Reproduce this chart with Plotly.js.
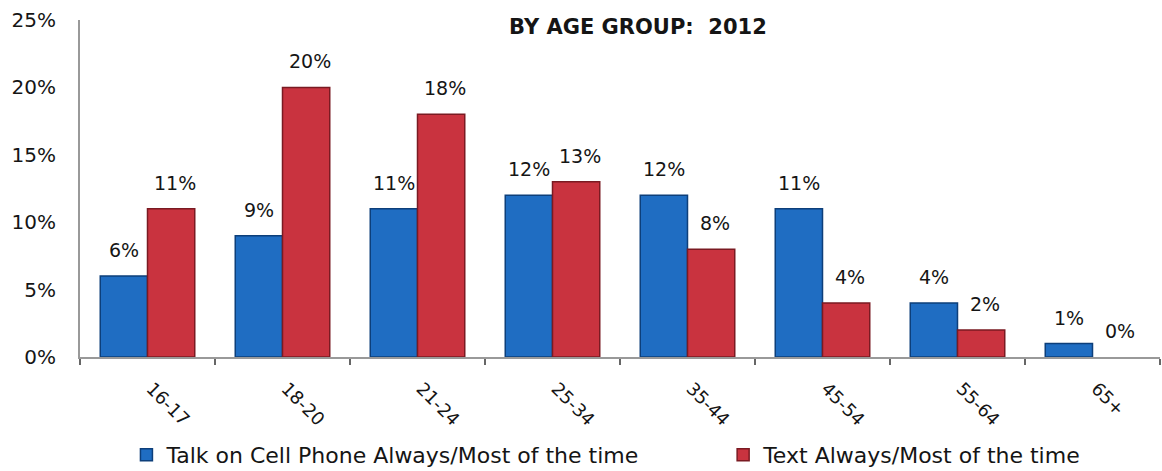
<!DOCTYPE html>
<html>
<head>
<meta charset="utf-8">
<script src="https://cdn.plot.ly/plotly-3.0.1.min.js"></script>
<style>html,body{margin:0;padding:0;background:#fff;}</style>
</head>
<body>
<div id="chart" style="width:1162px;height:471px;"></div>
<script>
const categories = ["16-17", "18-20", "21-24", "25-34", "35-44", "45-54", "55-64", "65+"];
const talkValues = [6, 9, 11, 12, 12, 11, 4, 1];
const textValues = [11, 20, 18, 13, 8, 4, 2, 0];
const seriesNames = ["Talk on Cell Phone Always/Most of the time", "Text Always/Most of the time"];
const yTickVals = [0, 5, 10, 15, 20, 25];
const yTickText = ["0%", "5%", "10%", "15%", "20%", "25%"];

const W = 1162, H = 471;
const margin = {l: 80, r: 2, t: 20, b: 114};
const bargap = 0.3;
const plotW = W - margin.l - margin.r;
const barPx = plotW / categories.length * (1 - bargap) / 2;
const fontFam = "'DejaVu Sans', sans-serif";
const ink = "#151515";

const blue = "#1f6dc2";
const red = "#c9333f";
const edgeW = v => v.map(d => (d > 0 ? 1.5 : 0));

const traces = [
  {type: "bar", name: seriesNames[0], x: categories, y: talkValues, legend: "legend",
   marker: {color: blue, line: {color: "#0d3f7a", width: edgeW(talkValues)}}, hoverinfo: "skip"},
  {type: "bar", name: seriesNames[1], x: categories, y: textValues, legend: "legend2",
   marker: {color: red, line: {color: "#7a1a22", width: edgeW(textValues)}}, hoverinfo: "skip"}
];

const annotations = [];
categories.forEach((c, i) => {
  annotations.push({x: c, y: talkValues[i], xref: "x", yref: "y", text: talkValues[i] + "%",
    showarrow: false, xanchor: "center", yanchor: "bottom", xshift: -barPx / 2, yshift: 13,
    font: {family: fontFam, size: 19, color: ink}});
  annotations.push({x: c, y: textValues[i], xref: "x", yref: "y", text: textValues[i] + "%",
    showarrow: false, xanchor: "center", yanchor: "bottom", xshift: barPx / 2 + 4, yshift: 13,
    font: {family: fontFam, size: 19, color: ink}});
});

const legendFont = {family: fontFam, size: 22, color: ink};
const layout = {
  width: W, height: H,
  margin: margin,
  paper_bgcolor: "#fff", plot_bgcolor: "#fff",
  barmode: "group", bargap: bargap, bargroupgap: 0,
  title: {text: "<b>BY AGE GROUP:  2012</b>", x: 0.549, xref: "container", xanchor: "center",
          y: 0.943, yref: "container", yanchor: "middle",
          font: {family: fontFam, size: 21, color: ink}},
  xaxis: {type: "category", showgrid: false, zeroline: false, showline: true, linecolor: "#999", linewidth: 2,
          ticks: "outside", tickson: "boundaries", ticklen: 6, tickcolor: "#666", tickwidth: 2,
          tickangle: 45, ticklabelshift: 4, ticklabelstandoff: 12,
          tickfont: {family: fontFam, size: 18, color: ink}},
  yaxis: {range: [0, 25], tickvals: yTickVals, ticktext: yTickText, showgrid: false, zeroline: false,
          showline: true, linecolor: "#999", linewidth: 2, ticks: "", ticklabelstandoff: 18,
          tickfont: {family: fontFam, size: 20, color: ink}},
  showlegend: true,
  legend: {orientation: "h", x: 0.043, xanchor: "left", y: 0.034, yref: "container", yanchor: "middle",
           font: legendFont, itemwidth: 30, bgcolor: "rgba(0,0,0,0)"},
  legend2: {orientation: "h", x: 0.5955, xanchor: "left", y: 0.034, yref: "container", yanchor: "middle",
           font: legendFont, itemwidth: 30, bgcolor: "rgba(0,0,0,0)"},
  annotations: annotations
};

Plotly.newPlot("chart", traces, layout, {displayModeBar: false, staticPlot: true});
</script>
</body>
</html>
